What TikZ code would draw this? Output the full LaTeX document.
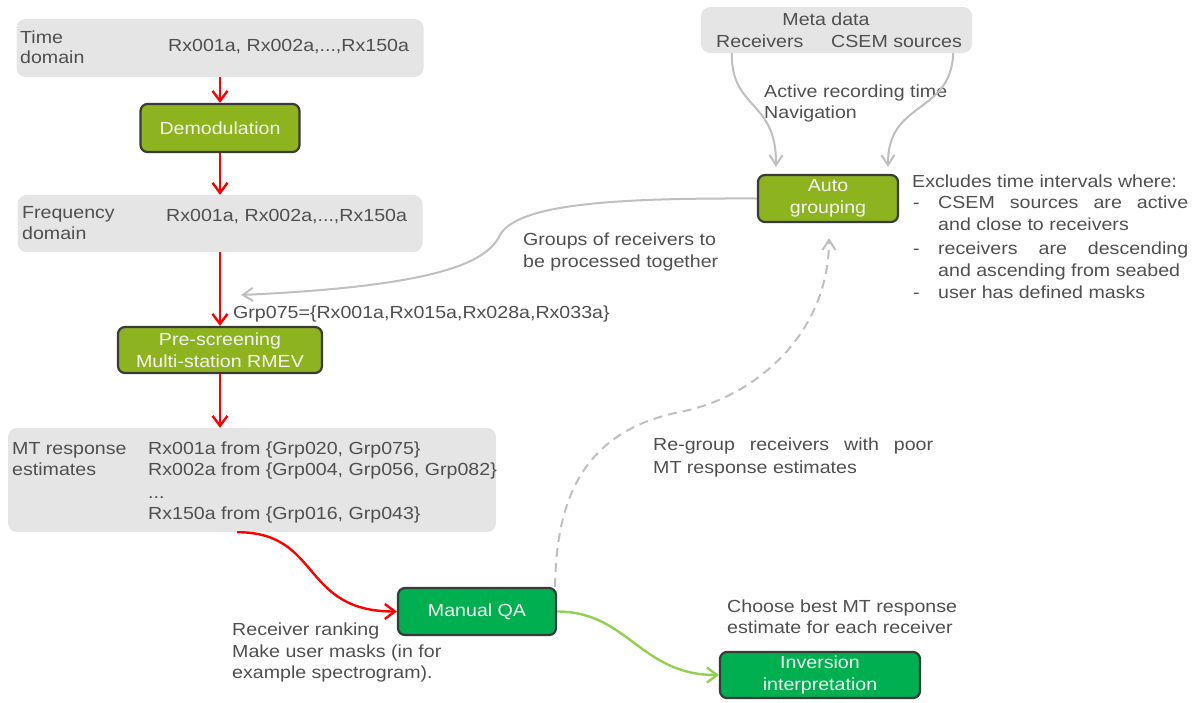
\documentclass[tikz,border=0pt]{standalone}
\usepackage{fontspec}
\setmainfont{Liberation Sans}[FakeStretch=1.12]
\usetikzlibrary{arrows.meta,calc}
\definecolor{txt}{HTML}{4F4F4F}
\definecolor{boxgray}{HTML}{E5E5E5}
\definecolor{olive}{HTML}{8DB41E}
\definecolor{grn}{HTML}{00B050}
\definecolor{lgrn}{HTML}{92D050}
\definecolor{arrgray}{HTML}{BFBFBF}
\definecolor{bord}{HTML}{3A3A3A}
\definecolor{offwhite}{HTML}{F4F4F4}
\begin{document}
\begin{tikzpicture}[x=1pt,y=-1pt,
  every node/.style={font=\fontsize{17.5}{21.5}\selectfont},
  gbox/.style={fill=boxgray, rounded corners=9pt, inner sep=0pt},
  proc/.style={draw=bord, line width=2.2pt, rounded corners=7pt, text=offwhite, align=center, inner sep=0pt},
  lbl/.style={anchor=base west, inner sep=0pt, text=txt},
  redarr/.style={draw=red, line width=2.4pt, -{Straight Barb[length=10pt,width=15pt]}},
  lgarr/.style={draw=lgrn, line width=2.4pt, -{Straight Barb[length=10pt,width=15pt]}},
  grayarr/.style={draw=arrgray, line width=2pt, -{Straight Barb[length=10pt,width=13pt]}},
  dasharr/.style={draw=arrgray, line width=2pt, dash pattern=on 9pt off 6pt, -{Straight Barb[length=10pt,width=13pt]}}
]
\useasboundingbox (0,0) rectangle (1200,702);

% gray boxes
\node[gbox, minimum width=407pt, minimum height=58pt] (time) at (220,48) {};
\node[gbox, minimum width=405pt, minimum height=57pt] (freq) at (220,223.5) {};
\node[gbox, minimum width=488pt, minimum height=104pt] (mt) at (252,480) {};
\node[gbox, minimum width=271pt, minimum height=46pt] (meta) at (836.5,30) {};

% process boxes
\node[proc, fill=olive, minimum width=159pt, minimum height=48pt] (demod) at (220,128) {Demodulation};
\node[proc, fill=olive, minimum width=204pt, minimum height=46pt] (pre) at (220,350) {Pre-screening\\Multi-station RMEV};
\node[proc, fill=olive, minimum width=140pt, minimum height=47pt] (auto) at (828,198.5) {Auto\\grouping};
\node[proc, fill=grn, minimum width=158pt, minimum height=47pt] (manual) at (477,611.5) {Manual QA};
\node[proc, fill=grn, minimum width=200pt, minimum height=46pt] (inv) at (820,675) {Inversion\\interpretation};

% texts
\node[lbl] (tt1) at (20,43) {Time};
\node[lbl] (tt2) at (20,63) {domain};
\node[lbl] (tt3) at (168,51) {Rx001a, Rx002a,...,Rx150a};
\node[lbl] (tf1) at (22,218) {Frequency};
\node[lbl] (tf2) at (22,239) {domain};
\node[lbl] (tf3) at (166,221) {Rx001a, Rx002a,...,Rx150a};
\node[lbl] (tg) at (233,318) {Grp075=\{Rx001a,Rx015a,Rx028a,Rx033a\}};
\node[lbl] (tgr1) at (523,245) {Groups of receivers to};
\node[lbl] (tgr2) at (523,267) {be processed together};
\node[lbl] (tm1) at (12,454) {MT response};
\node[lbl] (tm2) at (12,475) {estimates};
\node[lbl] (tm3) at (148,454) {Rx001a from \{Grp020, Grp075\}};
\node[lbl] (tm4) at (148,475) {Rx002a from \{Grp004, Grp056, Grp082\}};
\node[lbl] (tm5) at (148,498) {...};
\node[lbl] (tm6) at (148,519) {Rx150a from \{Grp016, Grp043\}};
\node[lbl] (tr1) at (232,635) {Receiver ranking};
\node[lbl] (tr2) at (232,657) {Make user masks (in for};
\node[lbl] (tr3) at (232,678) {example spectrogram).};
\node[lbl] (tc1) at (727,612) {Choose best MT response};
\node[lbl] (tc2) at (727,633) {estimate for each receiver};
\node[lbl] (tq1) at (653,450) {\makebox[280pt][s]{Re-group receivers with poor}};
\node[lbl] (tq2) at (653,473) {MT response estimates};
\node[lbl, anchor=base] (tmd1) at (826,25) {Meta data};
\node[lbl] (tmd2) at (716,47) {Receivers};
\node[lbl] (tmd3) at (831,47) {CSEM sources};
\node[lbl] (ta1) at (764,97) {Active recording time};
\node[lbl] (ta2) at (764,118) {Navigation};
\node[lbl] (te0) at (912,187) {Excludes time intervals where:};
\node[lbl] (td1) at (913,208) {-};
\node[lbl] (td2) at (913,254) {-};
\node[lbl] (td3) at (913,298) {-};
\node[lbl] (te1) at (938,208) {\makebox[250pt][s]{CSEM sources are active}};
\node[lbl] (te2) at (938,230) {and close to receivers};
\node[lbl] (te3) at (938,254) {\makebox[250pt][s]{receivers are descending}};
\node[lbl] (te4) at (938,276) {and ascending from seabed};
\node[lbl] (te5) at (938,298) {user has defined masks};

% connectors
\coordinate (grpend) at (241,295);
\draw[redarr] (time.south) -- (demod.north);
\draw[redarr] (demod.south) -- (freq.north);
\draw[redarr] (freq.south) -- (pre.north);
\draw[redarr] (pre.south) -- (pre.south |- mt.north);
\draw[redarr] ($(mt.south)+(-15,0)$) .. controls (322,532) and (300,611.5) .. (manual.west);
\draw[lgarr] (manual.east) .. controls (628,611.5) and (640,675) .. (inv.west);
\draw[grayarr] (auto.west) .. controls (620,198) and (518,203) .. (500,235) .. controls (487,262) and (440,286) .. (grpend);
\draw[grayarr] ($(meta.south west)+(31,0)$) .. controls (731,110) and (777,100) .. ($(auto.north west)+(19,-7)$);
\draw[grayarr] ($(meta.south east)+(-19,0)$) .. controls (951,115) and (887,100) .. ($(auto.north east)+(-11,-7)$);
\draw[dasharr] ($(manual.north east)+(-2,0)$) .. controls (556,490) and (590,430) .. (680,412) .. controls (760,396) and (829,330) .. ($(auto.south)+(1,15)$);
\end{tikzpicture}
\end{document}
